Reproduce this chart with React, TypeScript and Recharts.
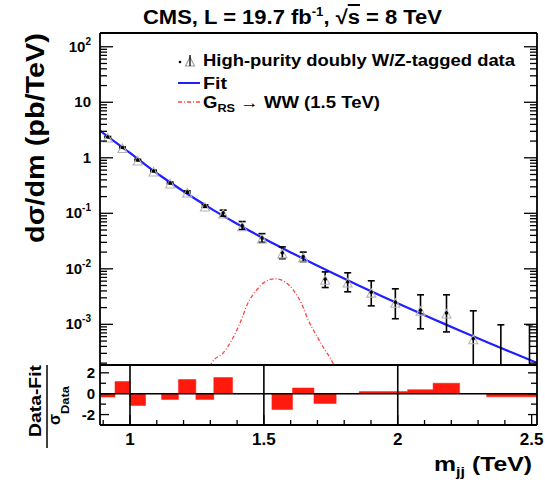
import React from 'react';
import { Area, ComposedChart, ErrorBar, Line, ReferenceLine, Scatter, XAxis, YAxis } from 'recharts';

const FONT = '"Liberation Sans", Arial, Helvetica, sans-serif';

// dijet mass binning (TeV)
const binEdges = [0.890, 0.944, 1.000, 1.058, 1.118, 1.181, 1.246, 1.313, 1.383, 1.455, 1.530, 1.607, 1.687, 1.770, 1.856, 1.945, 2.037, 2.132, 2.231, 2.332, 2.438, 2.546];
const binCenters = [0.917, 0.972, 1.029, 1.088, 1.150, 1.214, 1.280, 1.348, 1.419, 1.493, 1.569, 1.647, 1.729, 1.813, 1.901, 1.991, 2.085, 2.182, 2.282, 2.385, 2.492];

// high-purity doubly W/Z-tagged data, dsigma/dm (pb/TeV), 0 = empty bin
const dataXsec = [2.37, 1.53, 0.912, 0.578, 0.352, 0.242, 0.135, 0.101, 0.060, 0.036, 0.0194, 0.0165, 0.0065, 0.0058, 0.0038, 0.0025, 0.0018, 0.0016, 0.00055, 0, 0];
const dataLow = [2.32, 1.49, 0.885, 0.56, 0.34, 0.232, 0.128, 0.089, 0.051, 0.030, 0.0152, 0.0135, 0.0046, 0.00385, 0.00215, 0.00126, 0.00083, 0.00073, 0, 0, 0];
const dataHigh = [2.42, 1.57, 0.94, 0.597, 0.365, 0.253, 0.142, 0.114, 0.071, 0.043, 0.0248, 0.020, 0.0088, 0.00847, 0.00608, 0.00436, 0.0034, 0.0034, 0.00175, 0.00098, 0.00098];

// fit curve
const fitMass = [0.888, 0.944, 1.000, 1.058, 1.118, 1.181, 1.246, 1.313, 1.383, 1.455, 1.530, 1.607, 1.687, 1.770, 1.856, 1.945, 2.037, 2.132, 2.231, 2.332, 2.438, 2.520];
const fitXsec = [3.10, 1.93, 1.22, 0.748, 0.460, 0.286, 0.179, 0.113, 0.0721, 0.0460, 0.0294, 0.0190, 0.0122, 0.0078, 0.00496, 0.00314, 0.00198, 0.00125, 0.000773, 0.00048, 0.000294, 0.000202];

// G_RS -> WW signal, 1.5 TeV
const sigMass = [1.290, 1.305, 1.349, 1.381, 1.411, 1.441, 1.474, 1.504, 1.542, 1.579, 1.609, 1.643, 1.665, 1.699, 1.721, 1.758, 1.775];
const sigXsec = [0.00012, 0.0002, 0.00031, 0.00053, 0.00106, 0.00245, 0.0042, 0.00583, 0.0066, 0.0058, 0.0042, 0.00224, 0.00121, 0.0006, 0.00039, 0.0002, 0.00013];

// (data - fit) / sigma_data per bin
const pulls = [-0.32, 1.17, -1.13, 0, -0.55, 1.36, -0.55, 1.55, 0, 0, -1.52, 0.55, -0.94, 0, 0.2, 0.2, 0.39, 1.0, 0, -0.3, -0.3];

const xLabelTicks = [1, 1.5, 2, 2.5];
const pullTicks = [-2, -1, 0, 1, 2];
const pullLabels = [-2, 0, 2];

const X_DOMAIN = [0.888, 2.52];
const Y_MIN = 1.85e-4;
const Y_MAX = 177;
const PULL_DOMAIN = [-3, 2.75];

const points = binCenters.map((m, i) => {
  const shown = dataXsec[i] > 0;
  const y = shown ? dataXsec[i] : Y_MIN;
  const lo = Math.max(dataLow[i], Y_MIN);
  return { m, y, shown, err: [y - lo, dataHigh[i] - y] };
});
const fitTable = fitMass.map((m, i) => ({ m, f: fitXsec[i] }));
const sigTable = sigMass.map((m, i) => ({ m, s: sigXsec[i] }));
const pullTable = binEdges.map((m, i) => ({ m, r: pulls[Math.min(i, pulls.length - 1)] }));

const topTicks = [];
for (let k = 18; k <= 50; k++) topTicks.push(+(k * 0.05).toFixed(2));
const bottomTicks = [];
for (let k = 9; k <= 25; k++) bottomTicks.push(+(k * 0.1).toFixed(1));
const yTicks = [];
for (let d = -4; d <= 2; d++) {
  for (let k = 1; k <= 9; k++) {
    const v = k * Math.pow(10, d);
    if (v >= Y_MIN && v <= Y_MAX) yTicks.push(v);
  }
}

const isDecade = (v) => Math.abs(Math.log10(v) - Math.round(Math.log10(v))) < 1e-6;
const isLabelX = (v) => xLabelTicks.some((t) => Math.abs(t - v) < 1e-6);

const frame = { stroke: '#000', strokeWidth: 1.8 };
const tk = { stroke: '#000', strokeWidth: 1.3 };
const txt = { fontFamily: FONT, fontWeight: 700, fill: '#000' };

function LeftLogTick({ x, y, payload }) {
  const v = payload.value;
  const major = isDecade(v);
  const e = Math.round(Math.log10(v));
  return (
    <g>
      <line x1={x} x2={x + (major ? 13 : 7)} y1={y} y2={y} {...tk} />
      {major && (
        <text x={x - 9} y={y + 5} textAnchor="end" fontSize={15} {...txt}>
          {e === 0 ? '1' : e === 1 ? '10' : (
            <>
              10<tspan dy={-7} fontSize={10}>{e}</tspan>
            </>
          )}
        </text>
      )}
    </g>
  );
}

function RightLogTick({ x, y, payload }) {
  const major = isDecade(payload.value);
  return <line x1={x} x2={x - (major ? 13 : 7)} y1={y} y2={y} {...tk} />;
}

function TopTick({ x, y, payload }) {
  const major = isLabelX(payload.value);
  return <line x1={x} x2={x} y1={y} y2={y + (major ? 11 : 6)} {...tk} />;
}

function PullXTick({ x, y, payload }) {
  const major = isLabelX(payload.value);
  return (
    <g>
      <line x1={x} x2={x} y1={y} y2={y - (major ? 10 : 5)} {...tk} />
      {major && (
        <text x={x} y={y + 20} textAnchor="middle" fontSize={17} {...txt}>
          {payload.value}
        </text>
      )}
    </g>
  );
}

function PullLeftTick({ x, y, payload }) {
  const v = payload.value;
  return (
    <g>
      <line x1={x} x2={x + (pullLabels.includes(v) ? 9 : 6)} y1={y} y2={y} {...tk} />
      {pullLabels.includes(v) && (
        <text x={x - 5} y={y + 5.5} textAnchor="end" fontSize={15} {...txt}>
          {v}
        </text>
      )}
    </g>
  );
}

function PullRightTick({ x, y, payload }) {
  return <line x1={x} x2={x - (pullLabels.includes(payload.value) ? 9 : 6)} y1={y} y2={y} {...tk} />;
}

function DataMarker(props) {
  const { cx, cy, payload } = props;
  if (!payload.shown) return <g />;
  return (
    <g>
      <path d={`M${cx - 4.5},${cy + 5} L${cx + 4.5},${cy + 5} L${cx},${cy - 3.5} Z`} fill="none" stroke="#b4b4b4" strokeWidth={1.1} />
      <circle cx={cx} cy={cy} r={1.7} fill="#000" />
    </g>
  );
}

export default function App() {
  return (
    <div style={{ position: 'absolute', left: 0, top: 0, width: 545, height: 483, background: '#fff', overflow: 'hidden' }}>
      <div style={{ position: 'absolute', left: 0, top: 0 }}>
        <ComposedChart width={545} height={380} margin={{ top: 32, right: 7, bottom: 14, left: 0 }}>
          <XAxis dataKey="m" type="number" domain={X_DOMAIN} allowDataOverflow height={1} tick={false} tickLine={false} axisLine={frame} />
          <XAxis xAxisId="top" orientation="top" type="number" domain={X_DOMAIN} allowDataOverflow ticks={topTicks} interval={0}
            height={1} tickSize={0} tickMargin={0} tickLine={false} axisLine={frame} tick={TopTick} />
          <YAxis type="number" scale="log" domain={[Y_MIN, Y_MAX]} allowDataOverflow ticks={yTicks} interval={0}
            width={100} tickSize={0} tickMargin={0} tickLine={false} axisLine={frame} tick={LeftLogTick} />
          <YAxis yAxisId="right" orientation="right" type="number" scale="log" domain={[Y_MIN, Y_MAX]} allowDataOverflow ticks={yTicks} interval={0}
            width={1} tickSize={0} tickMargin={0} tickLine={false} axisLine={frame} tick={RightLogTick} />
          <Line data={sigTable} dataKey="s" type="monotone" stroke="#ff4444" strokeWidth={1.3} strokeDasharray="4 2 1 2" dot={false} isAnimationActive={false} />
          <Line data={fitTable} dataKey="f" type="monotone" stroke="#2020ff" strokeWidth={2.2} dot={false} isAnimationActive={false} />
          <Scatter data={points} dataKey="y" shape={DataMarker} isAnimationActive={false}>
            <ErrorBar dataKey="err" direction="y" width={3.5} stroke="#000" strokeWidth={1.6} />
          </Scatter>
        </ComposedChart>
      </div>

      <div style={{ position: 'absolute', left: 0, top: 350 }}>
        <ComposedChart width={545} height={133} margin={{ top: 14, right: 7, bottom: 57, left: 0 }}>
          <XAxis dataKey="m" type="number" domain={X_DOMAIN} allowDataOverflow ticks={bottomTicks} interval={0}
            height={1} tickSize={0} tickMargin={0} tickLine={false} axisLine={frame} tick={PullXTick} />
          <XAxis xAxisId="top" orientation="top" type="number" domain={X_DOMAIN} allowDataOverflow height={1} tick={false} tickLine={false} axisLine={frame} />
          <YAxis type="number" domain={PULL_DOMAIN} allowDataOverflow ticks={pullTicks} interval={0}
            width={100} tickSize={0} tickMargin={0} tickLine={false} axisLine={frame} tick={PullLeftTick} />
          <YAxis yAxisId="right" orientation="right" type="number" domain={PULL_DOMAIN} allowDataOverflow ticks={pullTicks} interval={0}
            width={1} tickSize={0} tickMargin={0} tickLine={false} axisLine={frame} tick={PullRightTick} />
          <Area data={pullTable} dataKey="r" type="stepAfter" baseValue={0} fill="#ff1a0d" fillOpacity={1} stroke="#ff1a0d" strokeWidth={0.5} isAnimationActive={false} />
          {xLabelTicks.slice(0, 3).map((v) => (
            <ReferenceLine key={v} x={v} stroke="#000" strokeWidth={1.6} />
          ))}
          <ReferenceLine y={0} stroke="#000" strokeWidth={1.6} />
        </ComposedChart>
      </div>

      <svg width={545} height={483} style={{ position: 'absolute', left: 0, top: 0, pointerEvents: 'none' }}>
        <text x={143} y={24} fontSize={20} textLength={299} lengthAdjust="spacingAndGlyphs" {...txt}>
          {'CMS, L = 19.7 fb'}
          <tspan dy={-8} fontSize={12}>{'-1'}</tspan>
          <tspan dy={8}>{', \u221A'}</tspan>
          <tspan style={{ textDecoration: 'overline' }}>{'s'}</tspan>
          {' = 8 TeV'}
        </text>

        <circle cx={180} cy={62} r={1.3} fill="#000" />
        <path d="M185.5,66 L194.5,66 L190,57 Z" fill="none" stroke="#999" strokeWidth={1.1} />
        <line x1={190} x2={190} y1={55} y2={66} stroke="#000" strokeWidth={1.3} />
        <text x={203} y={66} fontSize={16} textLength={312} lengthAdjust="spacingAndGlyphs" {...txt}>
          High-purity doubly W/Z-tagged data
        </text>
        <line x1={178} x2={200} y1={83} y2={83} stroke="#2020ff" strokeWidth={2} />
        <text x={203} y={89} fontSize={16} textLength={24} lengthAdjust="spacingAndGlyphs" {...txt}>Fit</text>
        <line x1={178} x2={200} y1={102} y2={102} stroke="#ff4444" strokeWidth={1.3} strokeDasharray="4 2 1 2" />
        <text x={203} y={108} fontSize={16} textLength={177} lengthAdjust="spacingAndGlyphs" {...txt}>
          {'G'}
          <tspan dy={4} fontSize={11}>{'RS'}</tspan>
          <tspan dy={-4}>{' \u2192 WW (1.5 TeV)'}</tspan>
        </text>

        <text transform="translate(44,138) rotate(-90)" textAnchor="middle" fontSize={26} textLength={210} lengthAdjust="spacingAndGlyphs" {...txt}>
          {'d\u03C3/dm (pb/TeV)'}
        </text>

        <g transform="translate(47,405) rotate(-90)">
          <text x={4} y={-6} textAnchor="middle" fontSize={17} textLength={72} lengthAdjust="spacingAndGlyphs" {...txt}>Data-Fit</text>
          <line x1={-43} x2={40} y1={0} y2={0} stroke="#000" strokeWidth={1.5} />
          <text x={-20} y={13} fontSize={16} {...txt}>{'\u03C3'}</text>
          <text x={-9} y={22} fontSize={11} textLength={28} lengthAdjust="spacingAndGlyphs" {...txt}>Data</text>
        </g>

        <text x={532} y={471} textAnchor="end" fontSize={20} textLength={98} lengthAdjust="spacingAndGlyphs" {...txt}>
          {'m'}
          <tspan dy={5} fontSize={13}>{'jj'}</tspan>
          <tspan dy={-5}>{' (TeV)'}</tspan>
        </text>
      </svg>
    </div>
  );
}
